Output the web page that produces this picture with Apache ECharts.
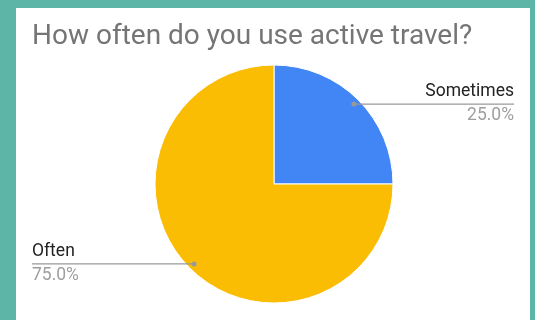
<!DOCTYPE html>
<html>
<head>
<meta charset="utf-8">
<script src="https://cdn.jsdelivr.net/npm/echarts@6/dist/echarts.min.js"></script>
<style>
  html, body { margin: 0; padding: 0; width: 535px; height: 320px; background: #5db5a8; overflow: hidden; }
  #chart { position: absolute; left: 16px; top: 8px; width: 514px; height: 312px; background: #ffffff; }
</style>
</head>
<body>
<div id="chart"></div>
<script>
// Survey answers and their shares of responses
const titleText = 'How often do you use active travel?';
const categories = ['Sometimes', 'Often'];
const shares = [25, 75];
const colors = ['#4285f4', '#fbbc04'];

const chart = echarts.init(document.getElementById('chart'), null, { renderer: 'canvas' });

const RADIUS = 119;
const INSET = 6;       // how far inside the slice the leader line starts
const leaders = [];

function layoutLabel(params) {
  const pts = params.labelLinePoints;
  if (!pts) return {};
  const p0 = pts[0], p1 = pts[1];
  const dx = p1[0] - p0[0], dy = p1[1] - p0[1];
  const len = Math.sqrt(dx * dx + dy * dy) || 1;
  const inner = [p0[0] - dx / len * INSET, p0[1] - dy / len * INSET];
  const rect = params.labelRect;
  const isLeft = rect.x + rect.width / 2 < chart.getWidth() / 2;
  const endX = isLeft ? rect.x : rect.x + rect.width;
  leaders[params.dataIndex] = { start: inner, end: [endX, inner[1]] };
  return {
    y: inner[1],
    verticalAlign: 'middle',
    labelLinePoints: [inner, inner, [endX, inner[1]]]
  };
}

// Leader lines drawn over the slices, each with a dot at its inner end
function drawLeaders() {
  const els = [];
  leaders.filter(Boolean).forEach(l => {
    els.push({
      type: 'line', z: 100, silent: true,
      shape: { x1: l.start[0], y1: l.start[1], x2: l.end[0], y2: l.end[1] },
      style: { stroke: '#999999', lineWidth: 1.2 }
    });
    els.push({
      type: 'circle', z: 101, silent: true,
      shape: { cx: l.start[0], cy: l.start[1], r: 2.5 },
      style: { fill: '#999999' }
    });
  });
  chart.setOption({ graphic: els });
}

chart.setOption({
  animation: false,
  title: {
    text: titleText,
    left: 16,
    top: 15,
    padding: 0,
    textStyle: { fontFamily: 'Roboto', fontSize: 28, fontWeight: 'normal', color: '#757575' }
  },
  series: [{
    type: 'pie',
    center: [258, 176],
    radius: RADIUS,
    startAngle: 90,
    clockwise: true,
    itemStyle: { borderColor: '#ffffff', borderWidth: 1 },
    label: {
      show: true,
      position: 'outside',
      alignTo: 'edge',
      edgeDistance: 16,
      fontFamily: 'Roboto',
      formatter: function (p) { return '{n|' + p.name + '}\n{v|' + p.percent.toFixed(1) + '%}'; },
      rich: {
        n: { fontFamily: 'Roboto', fontSize: 17.5, lineHeight: 24, color: '#222222' },
        v: { fontFamily: 'Roboto', fontSize: 17.5, lineHeight: 24, color: '#9e9e9e' }
      }
    },
    labelLine: { show: true, length: 10, length2: 10, lineStyle: { color: '#999999', width: 1, opacity: 0 } },
    labelLayout: layoutLabel,
    data: categories.map((name, i) => ({ name: name, value: shares[i], itemStyle: { color: colors[i] } }))
  }]
});

drawLeaders();
</script>
</body>
</html>
